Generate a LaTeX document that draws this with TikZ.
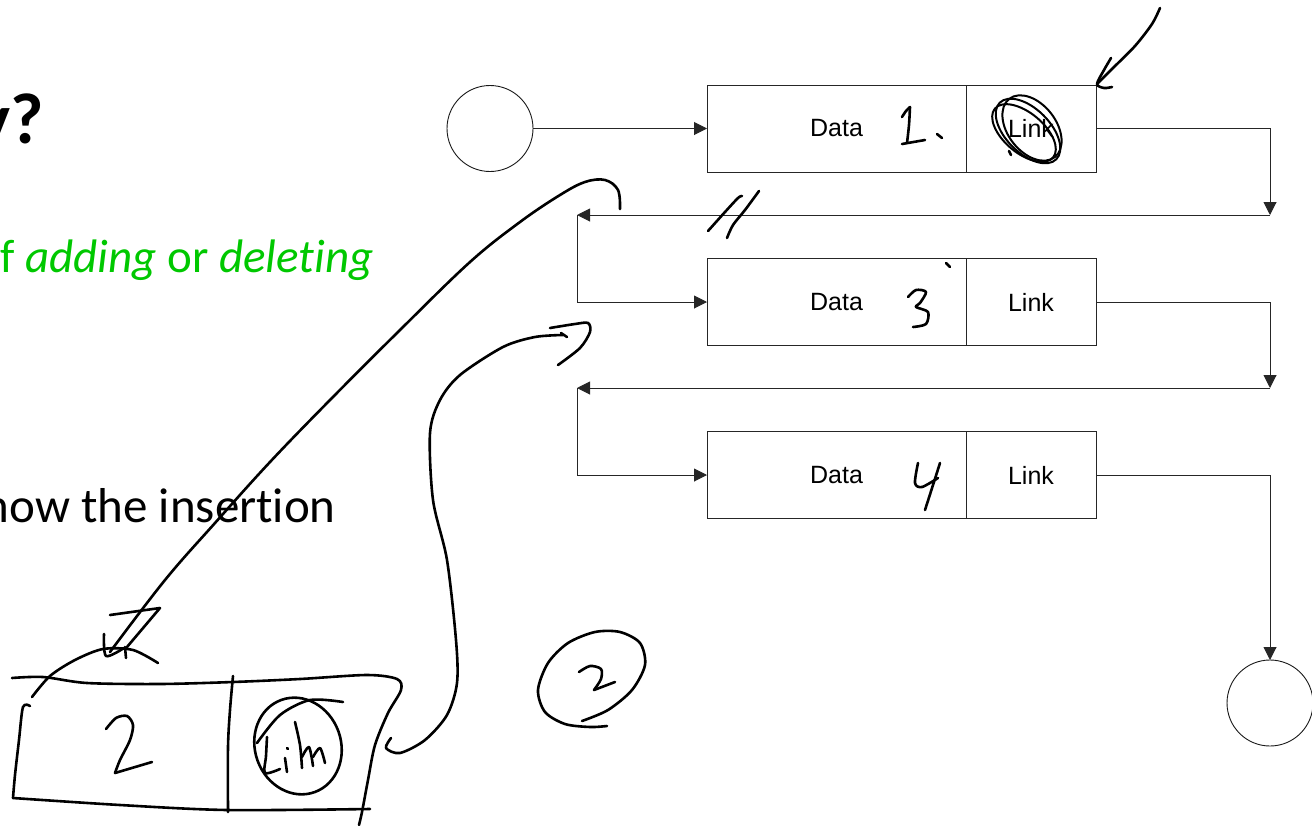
\documentclass[tikz,border=0pt]{standalone}
\usepackage{fontspec}
\setmainfont[RawFeature={-liga;-clig;-calt;-dlig}]{Carlito}
\newfontfamily\arialfont{Liberation Sans}
\usetikzlibrary{arrows.meta}
\definecolor{slidegreen}{RGB}{0,200,0}
\begin{document}
\begin{tikzpicture}[x=1pt,y=-1pt,
  box/.style={draw=black!85, line width=1pt, minimum height=87pt, inner sep=0pt, outer sep=0pt,
    font=\arialfont\fontsize{25}{30}\selectfont},
  databox/.style={box, minimum width=259pt},
  linkbox/.style={box, minimum width=130pt},
  term/.style={circle, draw=black!90, line width=0.9pt, minimum size=86pt, inner sep=0pt, outer sep=0pt},
  conn/.style={draw=black!85, line width=1pt, -{Triangle[length=13pt,width=13pt]}},
  pen/.style={line width=2.6pt, line cap=round, line join=round},
  slide/.style={anchor=base east, inner sep=0pt, font=\fontsize{49}{58}\selectfont},
]
\useasboundingbox (0,0) rectangle (1312,825);

% ---- slide text ----
\node[anchor=base east, inner sep=0pt, font=\bfseries\fontsize{72}{80}\selectfont] (ttl) at (44,143) {y?};
\node[slide, text=slidegreen, font=\fontsize{47}{56}\selectfont] (t1) at (374,272) {f \textit{adding} or \textit{delet\kern0pt ing}};
\node[slide] (t2) at (336,522) {how the insert\kern0pt ion};

% ---- linked list ----
\node[term] (start) at (490,128.5) {};
\node[databox] (d1) at (836.5,128.5) {Data};
\node[linkbox, anchor=west] (l1) at (d1.east) {Link};
\node[databox] (d2) at (836.5,302) {Data};
\node[linkbox, anchor=west] (l2) at (d2.east) {Link};
\node[databox] (d3) at (836.5,475) {Data};
\node[linkbox, anchor=west] (l3) at (d3.east) {Link};
\node[term] (stop) at (1270,703) {};

\coordinate (r1) at (1270,215);
\coordinate (b1) at (577,215);
\coordinate (r2) at (1270,388);
\coordinate (b2) at (577,388);

\draw[conn] (start.east) -- (d1.west);
\draw[conn] (l1.east) -| (r1);
\draw[conn] (r1) -- (b1);
\draw[conn] (b1) |- (d2.west);
\draw[conn] (l2.east) -| (r2);
\draw[conn] (r2) -- (b2);
\draw[conn] (b2) |- (d3.west);
\draw[conn] (l3.east) -| (stop.north);

% ---- pen annotations ----
% numbers written in the boxes
\draw[pen] plot[smooth] coordinates {(902,117) (906,111) (910,107)};
\draw[pen] plot[smooth] coordinates {(910,107) (909,125) (907,143)};
\draw[pen] (902,144) -- (925,140);
\draw[pen] (937,134) -- (942,138);
\draw[pen] plot[smooth] coordinates {(908,297) (916,290) (926,292) (920,303) (916,307) (928,312) (926,324) (913,327)};
\draw[pen] (946,263) -- (950,267);
\draw[pen] plot[smooth] coordinates {(918,463) (915,483) (922,487) (938,478)};
\draw[pen] plot[smooth] coordinates {(940,463) (933,485) (925,510)};

% scribbled-out link of the first node
\draw[line width=2pt] (1028,131) ellipse [x radius=40, y radius=22, rotate=-45];
\draw[line width=2pt] (1032,128) ellipse [x radius=37, y radius=24, rotate=-52];
\draw[line width=2pt] (1024,133) ellipse [x radius=38, y radius=20, rotate=-40];
\draw[pen] (1009,151) -- (1011,155);

% arrow pointing at the first link
\draw[pen] plot[smooth] coordinates {(1160,8) (1152,24) (1135,46) (1113,68) (1097,84)};
\draw[pen] plot[smooth] coordinates {(1111,58) (1104,70) (1097,84) (1104,88) (1112,87)};

% broken link
\draw[pen] plot[smooth] coordinates {(708,231) (725,212) (738,198) (742,196)};
\draw[pen] plot[smooth] coordinates {(727,238) (733,225) (745,210) (759,191)};

% new node drawn by hand
\draw[pen] plot[smooth] coordinates {(12,678) (43,677) (87,683) (160,684) (233,682) (300,679) (367,675) (397,679) (401,690) (388,713) (375,745) (368,780) (362,812) (359,825)};
\draw[pen] plot[smooth] coordinates {(30,706) (23,707) (19,740) (15,775) (13,798)};
\draw[pen] plot[smooth] coordinates {(13,798) (120,805) (227,810) (370,809)};
\draw[pen] plot[smooth] coordinates {(233,676) (230,710) (228,747) (228,812)};
\draw[pen] plot[smooth] coordinates {(32,697) (50,676) (75,660) (103,649) (133,650) (158,663)};
\draw[pen] plot[smooth] coordinates {(106,729) (116,718) (127,716) (133,725) (130,740) (120,760) (115,773)};
\draw[pen] (115,773) -- (152,762);
\draw[pen] (298,746) ellipse [x radius=43, y radius=49, rotate=20];
\draw[pen] plot[smooth] coordinates {(257,743) (280,715) (310,700) (343,702)};
\draw[pen] plot[smooth] coordinates {(267,737) (266,756) (265,773) (280,769)};
\draw[pen] (285,758) -- (287,772);
\draw[pen] (287,748) -- (288,749);
\draw[pen] plot[smooth] coordinates {(295,722) (300,745) (302,768)};
\draw[pen] plot[smooth] coordinates {(302,757) (309,747) (313,766)};
\draw[pen] plot[smooth] coordinates {(313,757) (320,748) (325,763)};

% arrow from the broken link down to the new node
\draw[pen] plot[smooth, tension=0.6] coordinates {(620,209) (618,190) (605,180) (585,182) (560,195) (520,222) (470,262) (400,330) (330,400) (270,462) (215,523) (165,580) (110,652)};
\draw[pen] (110,615) -- (160,608) -- (127,647);
\draw[pen] plot[smooth] coordinates {(104,634) (106,656) (124,648)};
\draw[pen] (125,647) -- (126,658);

% arrow from the new node's link to the next node
\draw[pen] plot[smooth] coordinates {(391,738) (386,748) (400,753) (425,740) (447,715) (457,683) (456,640) (447,560) (433,500) (430,433) (440,400) (460,375) (503,347) (535,337) (563,335)};
\draw[pen] (561,333) -- (567,337);
\draw[pen] plot[smooth] coordinates {(550,328) (575,324) (588,323) (590,332) (580,348) (558,365)};

% circled step number
\draw[pen] plot[smooth] coordinates {(582,721) (608,710) (632,690) (645,665) (640,643) (620,632) (595,632) (568,643) (548,663) (538,690) (545,712) (565,724) (590,727) (607,726)};
\draw[pen] plot[smooth] coordinates {(579,672) (590,666) (601,669) (601,679) (594,690)};
\draw[pen] (594,690) -- (615,682);
\end{tikzpicture}
\end{document}
